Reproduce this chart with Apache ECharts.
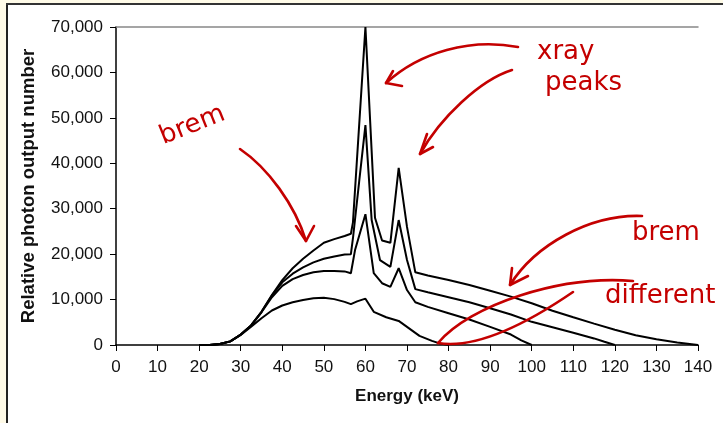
<!DOCTYPE html>
<html><head><meta charset="utf-8">
<script src="https://cdn.jsdelivr.net/npm/echarts@6/dist/echarts.min.js"></script>
<style>html,body{margin:0;padding:0;background:#fff}#c{width:723px;height:423px}</style>
</head><body><div id="c"></div>
<script>
// Energy (keV) grids and relative photon output for each tube voltage
const energy140 = [20,22.5,25,27.5,30,32.5,35,37.5,40,42.5,45,47.5,50,52.5,55,56.5,57,60,62.3,64,66,68,70,72,75,80,85,90,95,100,105,110,115,120,125,130,135,140];
const output140 = [0,0,200,800,2300,4300,7300,11000,14300,16900,19000,20800,22500,23300,24000,24500,27000,70000,28000,23000,22500,39000,26000,16000,15300,14300,13200,11950,10650,9200,7550,6100,4700,3350,2150,1250,550,0];

const energy120 = [20,22.5,25,27.5,30,32.5,35,37.5,40,42.5,45,47.5,50,52.5,55,56.5,57,58.5,60,61.5,63.5,66,68,70,72,75,80,85,90,95,100,105,110,115,117.5,120];
const output120 = [0,0,200,800,2300,4300,7300,10900,13800,15700,17100,18200,19000,19500,19900,20000,23500,36000,48400,27500,18700,17200,27500,18700,12300,11600,10500,9400,8100,6700,5100,3900,2700,1450,700,0];

const energy100 = [20,22.5,25,27.5,30,32.5,35,37.5,40,42.5,45,47.5,50,52.5,55,56.5,57.5,60,62,64,66,68,70,72,75,80,85,90,95,97.5,100];
const output100 = [0,0,200,800,2300,4300,7200,10500,13000,14500,15400,16000,16300,16300,16200,15800,20900,28800,15800,13600,12800,16900,12100,9400,8400,7000,5600,4000,2300,1000,0];

const energy80 = [20,22.5,25,27.5,30,32.5,35,37.5,40,42.5,45,47.5,50,52.5,55,56.5,58,60,62,65,68,70,73,76,78,80];
const output80 = [0,0,200,800,2200,4000,5900,7600,8700,9400,9900,10300,10400,10100,9500,9000,9600,10200,7300,6100,5300,4000,2000,900,300,0];

const xTicks = [0,10,20,30,40,50,60,70,80,90,100,110,120,130,140];
const yTicks = [0,10000,20000,30000,40000,50000,60000,70000];

const FONT = 'Liberation Sans';
const RED = '#c40000';
const zip = (xs, ys) => xs.map((x, i) => [x, ys[i]]);
const lineSeries = (xs, ys) => ({
  type: 'line', data: zip(xs, ys), xAxisIndex: 0, yAxisIndex: 0,
  showSymbol: false, symbol: 'none', silent: true,
  lineStyle: { color: '#000', width: 2 }
});

const chart = echarts.init(document.getElementById('c'), null, { renderer: 'canvas' });
const redText = (text, x, y, rot) => ({
  type: 'text', x: x, y: y, rotation: rot || 0, z: 100,
  style: { text: text, fill: RED, font: 'normal 26px "DejaVu Sans"', verticalAlign: 'top' }
});
const redCurve = (x1, y1, c1x, c1y, c2x, c2y, x2, y2) => ({
  type: 'bezierCurve', z: 100,
  shape: { x1: x1, y1: y1, cpx1: c1x, cpy1: c1y, cpx2: c2x, cpy2: c2y, x2: x2, y2: y2 },
  style: { stroke: RED, lineWidth: 2.6, fill: null, lineCap: 'round' }
});
const redHead = (pts) => ({
  type: 'polyline', z: 100, shape: { points: pts },
  style: { stroke: RED, lineWidth: 2.6, fill: null, lineCap: 'round', lineJoin: 'round' }
});

chart.setOption({
  animation: false,
  backgroundColor: '#ffffff',
  grid: { left: 116, right: 25, top: 27, bottom: 78 },
  xAxis: [{
    type: 'value', min: 0, max: 140, interval: 10,
    name: 'Energy (keV)', nameLocation: 'middle', nameGap: 43,
    nameTextStyle: { fontFamily: FONT, fontSize: 17, fontWeight: 'bold', color: '#111' },
    axisLine: { show: true, lineStyle: { color: '#000', width: 1.5 } },
    axisTick: { show: true, inside: false, length: 6, lineStyle: { color: '#000', width: 1 } },
    axisLabel: { fontFamily: FONT, fontSize: 17, color: '#111', margin: 14,
      customValues: xTicks },
    splitLine: { show: false }
  }, {
    type: 'value', min: 0, max: 140, position: 'top',
    axisLine: { show: true, lineStyle: { color: '#888', width: 1.5 } },
    axisTick: { show: false }, axisLabel: { show: false }, splitLine: { show: false }
  }],
  yAxis: [{
    type: 'value', min: 0, max: 70000, interval: 10000,
    name: 'Relative photon output number', nameLocation: 'middle', nameGap: 78,
    nameTextStyle: { fontFamily: FONT, fontSize: 18.5, fontWeight: 'bold', color: '#111' },
    axisLine: { show: true, lineStyle: { color: '#000', width: 1.5 } },
    axisTick: { show: true, inside: false, length: 6, lineStyle: { color: '#000', width: 1 } },
    axisLabel: { fontFamily: FONT, fontSize: 17, color: '#111', margin: 13,
      formatter: v => yTicks.includes(v) ? v.toLocaleString('en-US') : '' },
    splitLine: { show: false }
  }],
  series: [
    lineSeries(energy140, output140),
    lineSeries(energy120, output120),
    lineSeries(energy100, output100),
    lineSeries(energy80, output80)
  ],
  graphic: [
    { type: 'rect', shape: { x: 0, y: 0, width: 6, height: 423 }, style: { fill: '#fffbe8' }, z: 90 },
    { type: 'rect', shape: { x: 0, y: 0, width: 723, height: 3 }, style: { fill: '#fffbe8' }, z: 90 },
    { type: 'line', shape: { x1: 7, y1: 3, x2: 7, y2: 423 }, style: { stroke: '#222', lineWidth: 2 }, z: 91 },
    { type: 'line', shape: { x1: 6, y1: 4, x2: 723, y2: 4 }, style: { stroke: '#333', lineWidth: 2 }, z: 91 },

    redText('brem', 156, 126, 0.38),
    redText('xray', 537, 39),
    redText('peaks', 545, 70),
    redText('brem', 632, 220),
    redText('different', 605, 283),

    redCurve(240, 149, 268, 168, 295, 205, 306, 241),
    redHead([[296, 226], [306, 241], [314, 226]]),

    redCurve(518, 47, 470, 38, 420, 52, 386, 83),
    redHead([[393, 71], [386, 83], [402, 86]]),

    redCurve(512, 70, 480, 80, 440, 118, 420, 154),
    redHead([[427, 134], [420, 154], [433, 147]]),

    redCurve(642, 216, 590, 214, 535, 245, 510, 285),
    redHead([[512, 268], [510, 285], [528, 276]]),

    redCurve(438, 343, 470, 305, 560, 275, 633, 281),
    redCurve(438, 343, 480, 350, 535, 318, 573, 292)
  ]
});
</script></body></html>
